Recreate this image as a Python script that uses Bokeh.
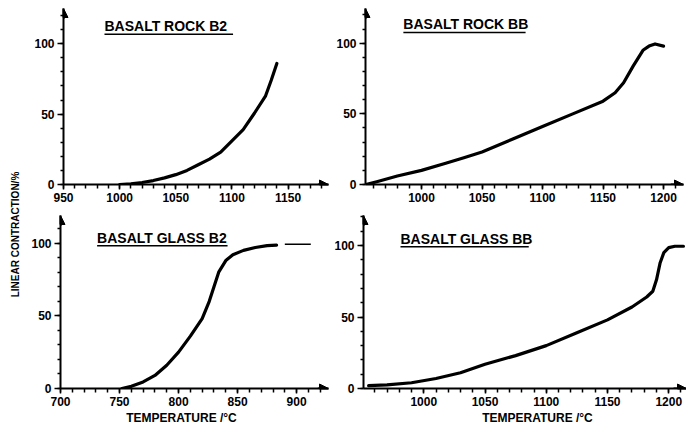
import numpy as np
from bokeh.plotting import figure
from bokeh.layouts import row, column
from bokeh.models import Range1d, FixedTicker, Label, Arrow, NormalHead
from bokeh.embed import file_html
from bokeh.resources import INLINE
from bokeh.core.properties import value

# ---------------- data ----------------
rock_b2_temp = [1000, 1010, 1020, 1030, 1040, 1050, 1060, 1070, 1080, 1090, 1100, 1110, 1120, 1130, 1135, 1140]
rock_b2_contr = [0, 0.5, 1.4, 2.8, 4.7, 7, 10, 14, 18, 23, 31, 39, 50.6, 63, 74, 86]

rock_bb_temp = [954, 963, 980, 1000, 1020, 1035, 1050, 1075, 1100, 1125, 1150, 1160, 1167, 1175, 1183, 1188, 1193, 1200]
rock_bb_contr = [0, 2, 6, 10, 15, 19, 23, 32, 41, 50, 59, 65, 72, 84, 95, 98, 99.5, 98]

glass_b2_temp = [752, 760, 770, 780, 790, 800, 810, 820, 826, 830, 834, 840, 846, 855, 865, 875, 883]
glass_b2_contr = [0, 1.5, 4.5, 9, 16, 25, 36, 48, 60, 70, 80, 88, 92, 95, 97, 98.3, 98.6]
glass_b2_tail_temp = [890, 912]
glass_b2_tail_contr = [99.3, 99.3]

glass_bb_temp = [955, 970, 990, 1010, 1030, 1050, 1075, 1100, 1125, 1150, 1170, 1182, 1187, 1190, 1193, 1196, 1200, 1205, 1212]
glass_bb_contr = [2, 2.5, 4, 7, 11, 17, 23, 30, 39, 48, 57, 64, 68, 76, 88, 95, 98.5, 99.5, 99.5]

titles = ["BASALT ROCK B2", "BASALT ROCK BB", "BASALT GLASS B2", "BASALT GLASS BB"]
x_title = "TEMPERATURE /°C"
y_title = "LINEAR CONTRACTION/%"
y_major = [0, 50, 100]
y_minor = list(range(0, 121, 10))

FONT = "Liberation Sans"


def panel(width, height, xr, yr, borders, x_major, x_minor):
    left, right, top, bottom = borders
    p = figure(width=width, height=height,
               x_range=Range1d(*xr), y_range=Range1d(*yr),
               output_backend="svg", toolbar_location=None,
               min_border_left=left, min_border_right=right,
               min_border_top=top, min_border_bottom=bottom)
    p.grid.visible = False
    p.outline_line_color = None
    p.background_fill_color = "white"
    p.border_fill_color = "white"

    p.xaxis.ticker = FixedTicker(ticks=x_major, minor_ticks=x_minor)
    p.yaxis.ticker = FixedTicker(ticks=y_major, minor_ticks=y_minor)
    for ax in (p.xaxis[0], p.yaxis[0]):
        ax.axis_line_width = 2
        ax.axis_line_color = "black"
        ax.major_tick_line_color = "black"
        ax.minor_tick_line_color = "black"
        ax.major_tick_line_width = 1.5
        ax.minor_tick_line_width = 1.5
        ax.major_tick_in = 0
        ax.minor_tick_in = 0
        ax.major_label_text_font = FONT
        ax.major_label_text_font_style = "bold"
        ax.major_label_text_color = "black"
    p.xaxis.major_tick_out = 5
    p.xaxis.minor_tick_out = 4
    p.xaxis.major_label_standoff = 3
    p.xaxis.major_label_text_font_size = "12px"
    p.yaxis.major_tick_out = 6
    p.yaxis.minor_tick_out = 3
    p.yaxis.major_label_standoff = 3
    p.yaxis.major_label_text_font_size = "12px"

    # arrow heads at the axis ends
    span_x = xr[1] - xr[0]
    span_y = yr[1] - yr[0]
    p.add_layout(Arrow(end=NormalHead(size=9, fill_color="black", line_color="black"),
                       x_start=xr[1] - 0.04 * span_x, y_start=yr[0],
                       x_end=xr[1], y_end=yr[0], line_width=2, line_color="black"))
    p.add_layout(Arrow(end=NormalHead(size=9, fill_color="black", line_color="black"),
                       x_start=xr[0], y_start=yr[1] - 0.06 * span_y,
                       x_end=xr[0], y_end=yr[1], line_width=2, line_color="black"))
    return p


def add_title(p, text, x, y, x_end, y_line):
    p.add_layout(Label(x=x, y=y, text=text, text_font=FONT, text_font_style="bold",
                       text_font_size="14px", text_color="black",
                       text_baseline="middle", text_align="left"))
    p.segment(x0=[x], y0=[y_line], x1=[x_end], y1=[y_line], line_color="black", line_width=1.5)


def curve(p, xs, ys, w=3.2):
    p.line(xs, ys, line_color="black", line_width=w, line_join="round", line_cap="round")


# ---------------- panels ----------------
p1 = panel(310, 215, (950, 1186), (0, 125), (43, 2, 5, 31),
           list(range(950, 1151, 50)), list(range(950, 1181, 10)))
curve(p1, rock_b2_temp, rock_b2_contr)
add_title(p1, titles[0], 986.5, 112.6, 1101, 106.8)

p2 = panel(356, 215, (953.7, 1216.5), (0, 124.6), (35, 3, 8, 30),
           list(range(1000, 1201, 50)), list(range(960, 1211, 10)))
curve(p2, rock_bb_temp, rock_bb_contr)
add_title(p2, titles[1], 985, 113.4, 1086, 107.6)

p3 = panel(310, 195, (700, 927), (0, 119), (40, 2, 0, 22),
           list(range(700, 901, 50)), list(range(700, 921, 10)))
curve(p3, glass_b2_temp, glass_b2_contr)
p3.line(glass_b2_tail_temp, glass_b2_tail_contr, line_color="black", line_width=1.5)
add_title(p3, titles[2], 731, 103.8, 841.5, 98.2)

p4 = panel(356, 195, (950.8, 1214.5), (0, 121), (33, 0, 0, 22),
           list(range(1000, 1201, 50)), list(range(960, 1211, 10)))
curve(p4, glass_bb_temp, glass_bb_contr)
add_title(p4, titles[3], 981, 104.5, 1085.7, 99.2)


def strip(width, height):
    s = figure(width=width, height=height, x_range=Range1d(0, width), y_range=Range1d(0, height),
               output_backend="svg", toolbar_location=None,
               min_border_left=0, min_border_right=0, min_border_top=0, min_border_bottom=0)
    s.axis.visible = False
    s.grid.visible = False
    s.outline_line_color = None
    return s


# x label strip (below the lower panels)
px = strip(666, 21)
px.text(x=[161, 517], y=[13.5, 13.5], text=[x_title, x_title],
        text_font=value(FONT), text_font_style="bold", text_font_size="12px",
        text_align="center", text_baseline="middle", text_color="black")

# y label strip
pl = strip(20, 431)
pl.text(x=[15], y=[197], text=[y_title], angle=np.pi / 2,
        text_font=value(FONT), text_font_style="bold", text_font_size="10px",
        text_align="center", text_baseline="middle", text_color="black")

layout = row(pl, column(row(p1, p2), row(p3, p4), px))

open("out.html", "w").write(file_html(layout, INLINE))
